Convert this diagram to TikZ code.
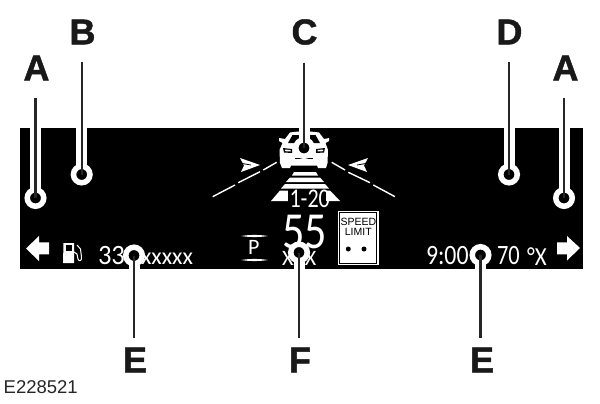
\documentclass[tikz,border=0pt]{standalone}
\usepackage{fontspec}
\setmainfont{Liberation Sans}[BoldFeatures={FakeBold=1.2}]
\newfontfamily\dashfont{Carlito}
\tikzset{
  callout/.style={font=\fontsize{36}{36}\selectfont\bfseries,text=black!90,inner sep=0pt,outer sep=0pt},
  ring/.style={circle,draw=white,line width=5.5pt,fill=black,minimum size=16.5pt,inner sep=0pt,outer sep=0pt},
  halo/.style={white,line width=11pt},
  leader/.style={black!85,line width=2.4pt},
  readout/.style={text=white,inner sep=0pt,outer sep=0pt,anchor=base west},
  lane/.style={white,line width=1.4pt},
  wedge/.style={fill=white,draw=none}
}
\begin{document}
\begin{tikzpicture}[x=1pt,y=-1pt]
\useasboundingbox (0,0) rectangle (600,404);
\fill[white] (0,0) rectangle (600,404);
\node[fill=black,minimum width=563.5pt,minimum height=140.2pt,inner sep=0pt,outer sep=0pt,anchor=north west] (screen) at (19.5,128.3) {};
% lane lines
\draw[lane] (276.7,162.3) -- (263.3,170);
\draw[lane] (260,171.7) -- (238.3,182.7);
\draw[lane] (235,185) -- (212.7,196.7);
\draw[lane] (331.7,162.3) -- (345,170);
\draw[lane] (348.3,172.3) -- (370,182.7);
\draw[lane] (373.3,185) -- (395,196.7);
% chevrons
\fill[white] (240,158) -- (260,165) -- (241,172) -- (244,165.5) -- cycle;
\draw[black,line width=.8pt] (241,163.3) -- (251,165);
\fill[white] (368,158) -- (348,165) -- (367,172) -- (364,165.5) -- cycle;
\draw[black,line width=.8pt] (367,163.3) -- (357,165);
% car
\fill[white] (279,141) -- (279,138) -- (285,139) -- (290,132.5) .. controls (300,131) and (309,131) .. (319,132.5) -- (324,139) -- (329,138) -- (329,141) -- (325.5,143) -- (328,150) -- (327.5,163) -- (326,168) -- (318,168) -- (317,165.5) -- (291,165.5) -- (290,168) -- (282,168) -- (280,163) -- (279.5,150) -- (282.5,143) -- cycle;
\fill[black] (288,143) -- (292.5,135) -- (315.5,135) -- (320,143) -- cycle;
\fill[black] (283,148) -- (292,149) -- (292,153) -- (284,152.5) -- cycle;
\fill[black] (325,148) -- (316,149) -- (316,153) -- (324,152.5) -- cycle;
\fill[white] (285,149.5) -- (290.5,150) -- (290.5,151.5) -- (285,151.2) -- cycle;
\fill[white] (323,149.5) -- (317.5,150) -- (317.5,151.5) -- (323,151.2) -- cycle;
\fill[black] (295,158) rectangle (313,159);
% road
\fill[white] (294,172) -- (316,172) -- (318,175.5) -- (292,175.5) -- cycle;
\fill[white] (290,177.5) -- (320,177.5) -- (324,182) -- (286,182) -- cycle;
\fill[white] (285,184) -- (325,184) -- (329,188.5) -- (281,188.5) -- cycle;
\fill[white] (280,190.5) -- (330,190.5) -- (340,201) -- (271,201) -- cycle;
\fill[black] (288,189.5) rectangle (326,208);
\node[readout,font=\dashfont\fontsize{27}{27}\selectfont,xscale=.82] (speedset) at (289.5,207) {1-20};
% readouts
\node[readout,font=\dashfont\fontsize{28}{28}\selectfont,xscale=.95] (range) at (98,264) {33};
\node[readout,font=\dashfont\fontsize{24}{24}\selectfont] (rangeunit) at (141,264.5) {xxxxx};
\node[readout,font=\dashfont\fontsize{28}{28}\selectfont,xscale=.85] (clock) at (426,264) {9:00};
\node[readout,font=\dashfont\fontsize{28}{28}\selectfont,xscale=.8] (temp) at (497,264) {70};
\node[readout,font=\dashfont\fontsize{26}{26}\selectfont,xscale=.88] (tempunit) at (527,265) {°X};
\node[readout,font=\dashfont\fontsize{52}{52}\selectfont,xscale=.85] (speed) at (282,248) {55};
\node[readout,font=\dashfont\fontsize{22}{22}\selectfont] (speedunit) at (282,265) {XXX};
\node[readout,font=\dashfont\fontsize{22}{22}\selectfont] (gear) at (248,254) {P};
\fill[white] (241,236) .. controls (250,234.6) and (259,234.6) .. (268,236) .. controls (259,237.4) and (250,237.4) .. (241,236) -- cycle;
\fill[white] (241,260) .. controls (250,258.6) and (259,258.6) .. (268,260) .. controls (259,261.4) and (250,261.4) .. (241,260) -- cycle;
% speed limit sign
\node[fill=white,minimum width=40.5pt,minimum height=54pt,inner sep=0pt,anchor=north west] (sign) at (338,211) {};
\draw[black,line width=.7pt] (339.7,212.7) rectangle (376.8,263.3);
\node[font=\fontsize{10.5}{10}\selectfont,text=black,align=center,inner sep=0pt] (signtext) at (358.3,226.5) {SPEED\\LIMIT};
\fill[black] (348.3,249) circle (2.5);
\fill[black] (364,249) circle (2.5);
% arrows
\fill[white] (26,248.5) -- (39,236) -- (39,242.3) -- (49,242.3) -- (49,254.3) -- (39,254.3) -- (39,261) -- cycle;
\fill[white] (580,248) -- (567,236) -- (567,242.3) -- (557,242.3) -- (557,254.3) -- (567,254.3) -- (567,260.5) -- cycle;
% fuel pump
\fill[white] (63.5,243) -- (74,243) -- (74,263) -- (63,263) -- cycle;
\fill[black] (65.5,245) rectangle (72,251);
\draw[white,line width=1pt] (74,252) -- (77,254) -- (78,259) .. controls (79,262) and (82,261) .. (81.5,257) -- (80.5,249) -- (77,245);
% callout labels
\node[callout] (la1) at (36.5,68) {A};
\node[callout] (lb) at (82.5,32) {B};
\node[callout] (lc) at (304.5,32) {C};
\node[callout] (ld) at (509.5,32) {D};
\node[callout] (la2) at (565.5,68) {A};
\node[callout] (le1) at (135,360) {E};
\node[callout] (lf) at (300,360) {F};
\node[callout] (le2) at (482,360) {E};
% rings
\coordinate (pa1) at (35.5,198);
\coordinate (pb) at (81.7,174.5);
\coordinate (pc) at (304,148);
\coordinate (pd) at (509,174.5);
\coordinate (pa2) at (564,198);
\coordinate (pe1) at (134,255.5);
\coordinate (pf) at (299,252.5);
\coordinate (pe2) at (480.5,255);
\draw[halo] (screen.north -| pa1) -- (pa1);
\draw[halo] (screen.north -| pb) -- (pb);
\draw[halo] (screen.north -| pd) -- (pd);
\draw[halo] (screen.north -| pa2) -- (pa2);
\draw[halo] (screen.north -| pc) -- (pc);
\draw[halo] (screen.south -| pe1) -- (pe1);
\draw[halo] (screen.south -| pf) -- (pf);
\draw[halo] (screen.south -| pe2) -- (pe2);
\node[ring] (ra1) at (pa1) {};
\node[ring] (rb) at (pb) {};
\node[ring] (rc) at (pc) {};
\node[ring] (rd) at (pd) {};
\node[ring] (ra2) at (pa2) {};
\node[ring] (re1) at (pe1) {};
\node[ring] (rf) at (pf) {};
\node[ring] (re2) at (pe2) {};
\draw[leader,shorten <=18pt] (la1.south -| ra1) -- (ra1.center);
\draw[leader,shorten <=18pt] (lb.south -| rb) -- (rb.center);
\draw[leader,shorten <=18pt] (lc.south -| rc) -- (rc.center);
\draw[leader,shorten <=18pt] (ld.south -| rd) -- (rd.center);
\draw[leader,shorten <=18pt] (la2.south -| ra2) -- (ra2.center);
\draw[leader,shorten <=10pt] (le1.north -| re1) -- (re1.center);
\draw[leader,shorten <=10pt] (lf.north -| rf) -- (rf.center);
\draw[leader,shorten <=10pt] (le2.north -| re2) -- (re2.center);
% figure code
\node[font=\fontsize{18.5}{18.5}\selectfont,text=black!85,inner sep=0pt,anchor=base west] (code) at (3.5,393.5) {E228521};
\end{tikzpicture}
\end{document}
